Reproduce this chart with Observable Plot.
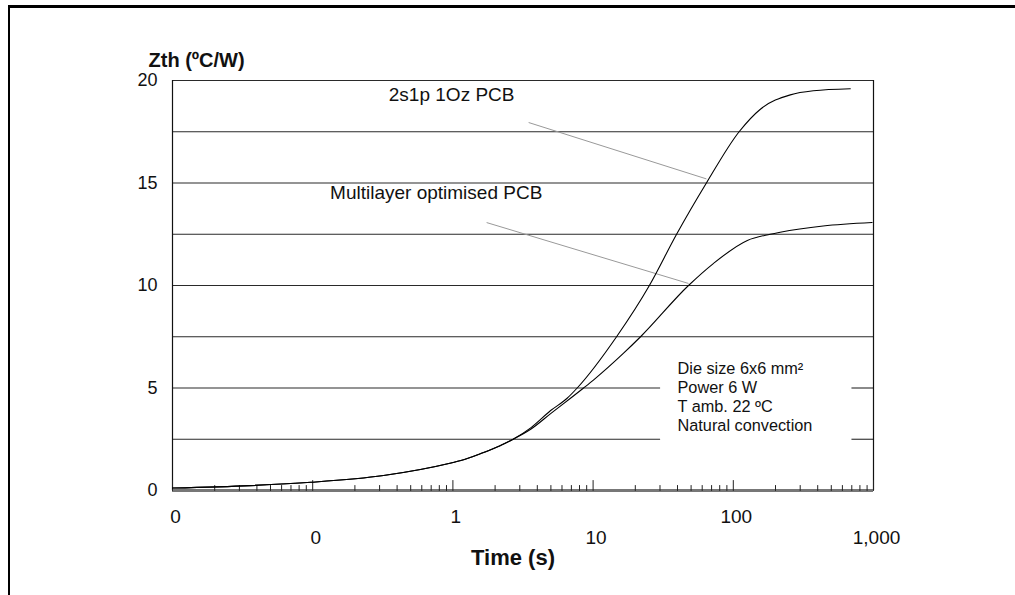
<!DOCTYPE html>
<html><head><meta charset="utf-8">
<script src="https://cdn.jsdelivr.net/npm/d3@7"></script>
<script src="https://cdn.jsdelivr.net/npm/@observablehq/plot@0.6"></script>
<style>
html,body{margin:0;padding:0;background:#fff;overflow:hidden;width:1015px;height:595px;}
#topline{position:absolute;left:8px;top:5px;width:1007px;height:2.5px;background:#000;}
#leftline{position:absolute;left:8px;top:5px;width:2px;height:590px;background:#000;}
#cover{position:absolute;left:990px;top:9px;width:40px;height:600px;background:#fff;z-index:10;}
#chart{position:absolute;left:0;top:0;}
svg{font-family:"Liberation Sans",Arial,Helvetica,sans-serif;}
</style></head><body>
<div id="chart"></div>
<div id="topline"></div>
<div id="leftline"></div>
<div id="cover"></div>
<script>
// ---- data ----
const time2s1p = [0.01, 0.036, 0.097, 0.32, 0.97, 1.14, 1.58, 2.19, 2.67, 3.61, 4.98, 6.53, 7.7, 14.7, 25.2, 39.4, 64.3, 110, 156, 255, 372, 683];
const zth2s1p  = [0.12, 0.24, 0.4, 0.73, 1.34, 1.46, 1.8, 2.2, 2.49, 3.07, 3.9, 4.5, 5.0, 7.5, 10, 12.5, 15, 17.5, 18.6, 19.3, 19.5, 19.6];
const timeMulti = [0.01, 0.036, 0.097, 0.32, 0.97, 1.14, 1.58, 2.19, 2.67, 3.61, 4.98, 8.55, 10.1, 16.5, 21.8, 47.9, 72, 126, 183, 216, 437, 977];
const zthMulti  = [0.12, 0.24, 0.4, 0.73, 1.34, 1.46, 1.8, 2.2, 2.49, 3.0, 3.75, 5.0, 5.4, 6.7, 7.5, 10, 11.07, 12.2, 12.5, 12.6, 12.9, 13.07];

const seriesNames = ["2s1p 1Oz PCB", "Multilayer optimised PCB"];
// label anchors and leader lines (time, Zth)
const labelTime = [0.349, 0.133];
const labelZth  = [19.3, 14.5];
const leaderFromTime = [3.47, 1.74], leaderFromZth = [17.95, 13.07];
const leaderToTime   = [64.3, 47.9], leaderToZth   = [15.2, 10.1];

const noteLines = ["Die size 6x6 mm²", "Power 6 W", "T amb. 22 ºC", "Natural convection"];
const noteZth = [5.95, 5.02, 4.1, 3.17];
const noteTime = 40;
// gap in the grid behind the note box (time range)
const noteGap = [30.3, 702];

const xTicks = [0.01, 0.1, 1, 10, 100, 1000];
const xTickLabels = ["0", "0", "1", "10", "100", "1,000"];
const yTicks = [0, 5, 10, 15, 20];
const yGrid = [2.5, 5, 7.5, 10, 12.5, 15, 17.5, 20];
const xTitle = "Time (s)";
const yTitle = "Zth (ºC/W)";

// ---- build ----
const toRows = (ts, zs, s) => ts.map((t, i) => ({t, z: zs[i], s}));
const rows = [...toRows(time2s1p, zth2s1p, seriesNames[0]), ...toRows(timeMulti, zthMulti, seriesNames[1])];
const labels = seriesNames.map((n, i) => ({n, t: labelTime[i], z: labelZth[i]}));
const leaders = seriesNames.map((n, i) => ({t1: leaderFromTime[i], z1: leaderFromZth[i], t2: leaderToTime[i], z2: leaderToZth[i]}));
const notes = noteLines.map((n, i) => ({n, z: noteZth[i]}));
const gridSegs = [];
for (const g of yGrid) {
  if (g <= 5) { gridSegs.push({z: g, a: 0.01, b: noteGap[0]}, {z: g, a: noteGap[1], b: 1000}); }
  else gridSegs.push({z: g, a: 0.01, b: 1000});
}
const minor = [];
for (let e = -2; e < 3; e++) for (let m = 2; m <= 9; m++) minor.push(m * Math.pow(10, e));
const upShape = {draw(c, l) { c.moveTo(0, 0); c.lineTo(0, -l); }};
const upperRow = xTicks.filter((d, i) => i % 2 === 0);
const lowerRow = xTicks.filter((d, i) => i % 2 === 1);
const fmt = d => xTickLabels[xTicks.indexOf(d)];

const plot = Plot.plot({
  width: 1015, height: 595,
  marginLeft: 172, marginRight: 142, marginTop: 80, marginBottom: 105,
  style: {fontFamily: '"Liberation Sans", Arial, Helvetica, sans-serif', background: "transparent"},
  x: {type: "log", domain: [0.01, 1000]},
  y: {domain: [0, 20]},
  marks: [
    Plot.ruleY(gridSegs, {y: "z", x1: "a", x2: "b", stroke: "#2a2a2a", strokeWidth: 1.1}),
    Plot.ruleX([0.01], {stroke: "#111", strokeWidth: 1.2}),
    Plot.ruleX([1000], {stroke: "#111", strokeWidth: 1.2}),
    Plot.ruleY([0], {stroke: "#777", strokeWidth: 3}),
    Plot.vector(minor, {x: d => d, y: 0, length: 5, rotate: 0, anchor: "start", shape: upShape, stroke: "#222", strokeWidth: 1}),
    Plot.vector(xTicks, {x: d => d, y: 0, length: 10, rotate: 0, anchor: "start", shape: upShape, stroke: "#222", strokeWidth: 1}),
    Plot.link(leaders, {x1: "t1", y1: "z1", x2: "t2", y2: "z2", stroke: "#999", strokeWidth: 1}),
    Plot.line(rows, {x: "t", y: "z", z: "s", stroke: "#000", strokeWidth: 1.1, curve: "monotone-x"}),
    Plot.text(labels, {x: "t", y: "z", text: "n", textAnchor: "start", fontSize: 19, fill: "#111"}),
    Plot.text(notes, {x: () => noteTime, y: "z", text: "n", textAnchor: "start", fontSize: 16.3, fill: "#111"}),
    Plot.axisY({ticks: yTicks, tickSize: 0, tickPadding: 15, fontSize: 18, label: null, color: "#111"}),
    Plot.axisX({ticks: upperRow, tickSize: 0, tickPadding: 19, tickFormat: fmt, fontSize: 19, label: null, dx: 3, color: "#111"}),
    Plot.axisX({ticks: lowerRow, tickSize: 0, tickPadding: 40, tickFormat: fmt, fontSize: 19, label: null, dx: 3, color: "#111"}),
    Plot.text([yTitle], {frameAnchor: "top-left", dx: -24, dy: -20, textAnchor: "start", lineAnchor: "middle", fontSize: 20, fontWeight: "bold", fill: "#111"}),
    Plot.text([xTitle], {frameAnchor: "bottom", dx: -10, dy: 67, lineAnchor: "middle", fontSize: 22, fontWeight: "bold", fill: "#111"})
  ]
});
document.getElementById("chart").appendChild(plot);
</script>
</body></html>
